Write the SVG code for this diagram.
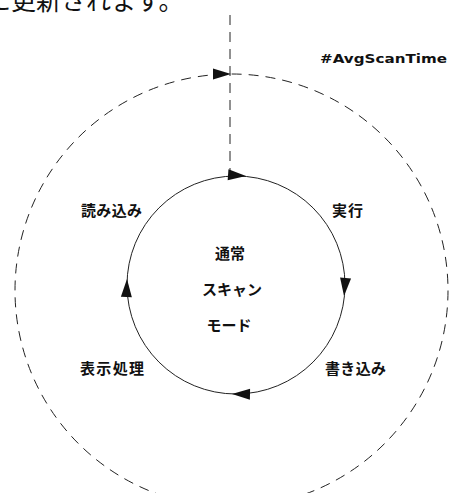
<svg xmlns="http://www.w3.org/2000/svg" xmlns:xlink="http://www.w3.org/1999/xlink" width="450" height="493" viewBox="0 0 450 493">
<style>
.lbl{font-family:"Noto Sans CJK JP","Noto Sans CJK SC",sans-serif;font-weight:bold;font-size:15px;fill:#111}
.mid{text-anchor:middle}
.dash{fill:none;stroke:#222;stroke-width:1;stroke-dasharray:10 7}
.solid{fill:none;stroke:#222;stroke-width:1}
.ah{fill:#111}
</style>
<defs>
<path id="arrow" d="M0,0 L-18,-5.5 L-18,5.5 Z"/>
</defs>
<rect width="450" height="493" fill="#fff"/>
<text x="-14" y="10" style="font-family:'Noto Sans CJK JP',sans-serif;font-size:25px;fill:#111">に更新されます。</text>
<g id="connectors">
<circle class="dash" cx="231.5" cy="290.5" r="216.5"/>
<line class="dash" x1="230" y1="15" x2="230" y2="174"/>
<circle class="solid" cx="236" cy="285" r="109"/>
<use xlink:href="#arrow" class="ah" transform="translate(231,74)"/>
<use xlink:href="#arrow" class="ah" transform="translate(246,176) rotate(4)"/>
<use xlink:href="#arrow" class="ah" transform="translate(344,296) rotate(95)"/>
<use xlink:href="#arrow" class="ah" transform="translate(232,394) rotate(181)"/>
<use xlink:href="#arrow" class="ah" transform="translate(127,279) rotate(-88)"/>
</g>
<g id="avgscantime"><text x="320" y="63" textLength="127" lengthAdjust="spacingAndGlyphs" style="font-family:'DejaVu Sans',sans-serif;font-weight:bold;font-size:13px;fill:#111">#AvgScanTime</text></g>
<g id="center"><text class="lbl mid" x="230" y="259">通常</text><text class="lbl mid" x="232" y="295">スキャン</text><text class="lbl mid" x="229" y="331">モード</text></g>
<g id="read"><text class="lbl" x="81" y="216" textLength="61">読み込み</text></g>
<g id="exec"><text class="lbl" x="332" y="216" textLength="31">実行</text></g>
<g id="disp"><text class="lbl" x="80" y="374" textLength="64">表示処理</text></g>
<g id="write"><text class="lbl" x="325" y="374" textLength="61">書き込み</text></g>
</svg>
